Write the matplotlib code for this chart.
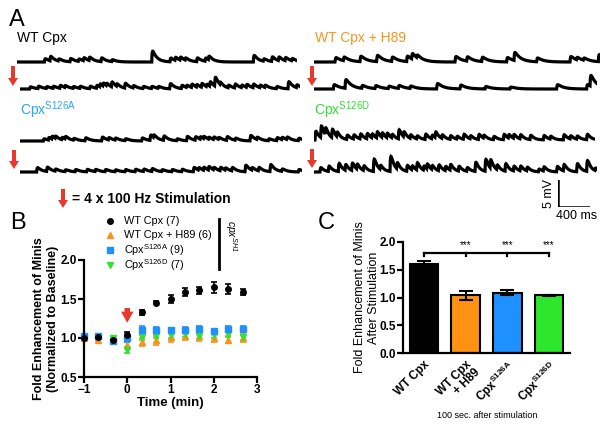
import numpy as np
import matplotlib
matplotlib.use('Agg')
import matplotlib.pyplot as plt
import matplotlib.patches as mpatches

plt.rcParams['font.family'] = ['Liberation Sans', 'DejaVu Sans']
plt.rcParams['mathtext.default'] = 'regular'

W, H = 610, 428
RED = '#e8392f'
ORANGE = '#f7941d'
BLUE = '#1e90ff'
GREEN = '#33e133'

# ---- panel A: miniature events (time in ms, amplitude in mV)
wt_pre_t = [342, 412, 517, 662, 767, 829, 900, 1050, 1184, 1684, 1912, 1975, 2037, 2100, 2246, 2350, 2392,
            2954, 3079, 3183, 3267, 3350, 3433]
wt_pre_a = [0.6, 0.85, 0.4, 0.6, 0.45, 0.6, 0.65, 0.7, 0.35, 2.0, 0.7, 0.6, 0.6, 0.45, 0.7, 0.6, 0.7,
            1.2, 0.45, 0.85, 0.7, 0.6, 0.45]
wt_post_t = [121, 225, 329, 412, 496, 558, 662, 746, 871, 954, 996, 1037, 1079, 1142, 1204, 1308, 1412, 1537,
             1642, 1725, 1871, 2017, 2079, 2142, 2204, 2267, 2329, 2371, 2433, 2496, 2600, 2683, 2767, 2829,
             2912, 2996, 3058, 3204, 3350, 3454]
wt_post_a = [0.4, 0.45, 0.35, 0.4, 0.55, 0.4, 0.35, 0.4, 0.45, 0.55, 0.6, 0.6, 0.5, 0.95, 0.5, 0.9, 0.45,
             0.4, 0.4, 0.35, 0.95, 0.6, 0.45, 0.65, 0.5, 0.75, 0.5, 0.9, 1.7, 0.5, 0.5, 0.75, 0.5, 0.6,
             0.7, 0.5, 0.45, 0.4, 1.3, 0.55]
s126a_pre_t = [292, 354, 396, 438, 521, 563, 667, 813, 1021, 1104, 1188, 1313, 1521, 1625, 1667, 1792, 1958,
               2083, 2188, 2250, 2292, 2354, 2417, 2479, 2583, 2688, 2875, 2958, 3104, 3208, 3271, 3333, 3479]
s126a_pre_a = [0.4, 0.5, 0.55, 0.45, 0.45, 0.5, 0.35, 0.55, 0.7, 0.45, 0.4, 0.35, 0.55, 1.0, 0.55, 0.8,
               0.35, 0.8, 0.65, 0.5, 0.45, 0.4, 0.5, 0.4, 0.7, 0.4, 1.0, 0.45, 0.35, 0.55, 0.45, 0.5, 0.45]
s126a_post_t = [208, 333, 438, 563, 688, 833, 938, 1063, 1188, 1313, 1438, 1542, 1646, 1771, 1896, 2021, 2167,
                2229, 2292, 2354, 2417, 2500, 2563, 2646, 2813, 2896, 2979, 3125, 3271, 3479]
s126a_post_a = [0.8, 0.8, 0.4, 0.35, 0.4, 0.45, 0.4, 0.4, 0.35, 0.4, 0.45, 0.45, 0.55, 0.35, 0.4, 0.45,
                0.8, 0.5, 0.6, 0.7, 0.5, 0.65, 0.45, 0.65, 1.2, 0.5, 0.65, 1.3, 0.45, 0.45]
h89_pre_t = [263, 367, 575, 783, 971, 1158, 1221, 1283, 1763, 1908, 2096, 2408, 2500, 2783, 3200, 3283, 3367, 3554]
h89_pre_a = [0.8, 0.7, 1.0, 1.15, 0.8, 1.0, 1.05, 0.55, 1.0, 0.8, 0.8, 0.8, 1.5, 0.7, 1.0, 0.5, 0.45, 1.3]
h89_post_t = [242, 388, 596, 763, 929, 1054, 1200, 1533, 1825, 2138, 2450, 3033, 3408, 3450]
h89_post_a = [0.8, 1.6, 0.55, 0.55, 0.45, 0.55, 0.45, 1.0, 0.7, 0.45, 0.35, 0.8, 0.8, 2.0]
s126d_pre_t = [13, 83, 138, 221, 283, 408, 492, 575, 658, 721, 783, 846, 908, 971, 1054, 1117, 1200, 1283, 1388,
               1471, 1513, 1596, 1700, 1783, 1867, 1950, 2054, 2117, 2242, 2367, 2429, 2492, 2575, 2700, 2867,
               2950, 3117, 3200, 3283, 3408, 3513]
s126d_pre_a = [1.6, 2.2, 1.4, 1.6, 0.9, 0.8, 0.8, 0.95, 1.0, 0.8, 1.2, 0.9, 0.9, 0.7, 1.7, 1.0, 0.7, 0.6, 1.0,
               0.7, 1.1, 0.7, 0.7, 0.55, 0.95, 0.6, 0.95, 0.6, 0.6, 1.0, 0.7, 0.75, 0.8, 0.8, 0.8, 0.55, 0.95,
               0.6, 0.6, 1.0, 1.2]
s126d_post_t = [75, 179, 304, 388, 471, 533, 617, 742, 825, 950, 1033, 1158, 1221, 1283, 1367, 1408, 1471, 1554,
                1638, 1700, 1804, 1908, 2013, 2138, 2200, 2283, 2388, 2492, 2575, 2658, 2804, 2867, 3033, 3117,
                3283, 3408, 3513]
s126d_post_a = [0.8, 1.0, 1.5, 1.1, 1.4, 1.0, 0.9, 2.3, 0.8, 2.8, 1.2, 1.1, 0.8, 1.4, 0.8, 1.0, 0.8, 1.1, 0.8,
                1.1, 0.9, 0.7, 1.7, 2.2, 1.6, 0.9, 1.4, 0.9, 0.9, 0.7, 0.5, 0.8, 1.0, 1.2, 1.5, 2.0, 0.5]

# ---- panel B: time course
time_min = [-1, -0.67, -0.33, 0, 0.33, 0.67, 1, 1.33, 1.67, 2, 2.33, 2.67]
wt = [1.00, 1.01, 0.98, 1.04, 1.33, 1.45, 1.50, 1.59, 1.61, 1.65, 1.63, 1.59]
wt_err = [0.01, 0.01, 0.01, 0.04, 0.03, 0.02, 0.05, 0.05, 0.05, 0.07, 0.06, 0.04]
h89 = [1.00, 0.98, 1.00, 0.91, 0.95, 0.97, 1.01, 1.03, 1.02, 1.00, 0.98, 1.00]
h89_err = [0.01, 0.02, 0.02, 0.04, 0.05, 0.06, 0.06, 0.06, 0.06, 0.05, 0.05, 0.05]
s126a = [1.03, 1.02, 0.96, 1.00, 1.10, 1.10, 1.10, 1.10, 1.12, 1.09, 1.12, 1.12]
s126a_err = [0.01, 0.01, 0.02, 0.05, 0.05, 0.04, 0.03, 0.04, 0.03, 0.03, 0.04, 0.03]
s126d = [1.01, 1.01, 1.00, 0.85, 1.01, 1.03, 1.04, 1.05, 1.02, 1.04, 1.05, 1.01]
s126d_err = [0.01, 0.01, 0.02, 0.04, 0.04, 0.03, 0.04, 0.04, 0.03, 0.04, 0.04, 0.03]
legend_names = ['WT Cpx (7)', 'WT Cpx + H89 (6)', 'Cpx$^{S126A}$ (9)', 'Cpx$^{S126D}$ (7)']

# ---- panel C: 100 s after stimulation
groups = ['WT Cpx', 'WT Cpx\n+ H89', 'Cpx$^{S126A}$', 'Cpx$^{S126D}$']
fold_after = [1.60, 1.04, 1.09, 1.04]
fold_err = [0.05, 0.08, 0.05, 0.01]
bar_colors = ['black', '#ff9212', '#1e90ff', '#2ee62e']

fig = plt.figure(figsize=(W / 100, H / 100), dpi=100)


def px_axes(x0, y0, x1, y1):
    return fig.add_axes([x0 / W, 1 - y1 / H, (x1 - x0) / W, (y1 - y0) / H])


def trace(ev_t, ev_a, dur, tau):
    t = np.arange(0, dur, 2.0)
    v = np.zeros_like(t)
    rise = 5.0
    tp = rise * tau / (tau - rise) * np.log(tau / rise)
    norm = np.exp(-tp / tau) - np.exp(-tp / rise)
    for t0, a in zip(ev_t, ev_a):
        d = t - t0
        m = d > 0
        v[m] += a * (np.exp(-d[m] / tau) - np.exp(-d[m] / rise)) / norm
    return t, v


MS_PER_PX = 12.5
MV_PER_PX = 5 / 27.0


def add_trace(x0, base, ev_t, ev_a, dur, tau):
    # axes in ms / mV, same scale as the scale bar
    x1 = x0 + dur / MS_PER_PX
    ax = px_axes(x0, base - 4 / MV_PER_PX, x1, base + 1 / MV_PER_PX)
    t, v = trace(ev_t, ev_a, dur, tau)
    ax.plot(t, v, color='black', lw=2.3, solid_joinstyle='miter')
    ax.set_xlim(0, dur)
    ax.set_ylim(-1, 4)
    ax.axis('off')
    return ax


add_trace(17, 62, wt_pre_t, wt_pre_a, 3500, 55)
add_trace(20, 89, wt_post_t, wt_post_a, 3500, 55)
add_trace(20, 141, s126a_pre_t, s126a_pre_a, 3520, 55)
add_trace(20, 172, s126a_post_t, s126a_post_a, 3520, 55)
add_trace(314, 62, h89_pre_t, h89_pre_a, 3575, 75)
add_trace(314, 89, h89_post_t, h89_post_a, 3533, 75)
add_trace(314, 140, s126d_pre_t, s126d_pre_a, 3513, 45)
add_trace(314, 172, s126d_post_t, s126d_post_a, 3533, 45)

# scale bar: 5 mV / 400 ms
sb = px_axes(558, 180, 558 + 400 / MS_PER_PX, 180 + 5 / MV_PER_PX)
sb.plot([0, 0, 400], [5, 0, 0], color='black', lw=1.8, solid_joinstyle='miter')
sb.set_xlim(0, 400)
sb.set_ylim(0, 5)
sb.axis('off')

# overlay in pixel coordinates for labels and arrows, kept on top
ov = fig.add_axes([0, 0, 1, 1])
ov.set_xlim(0, W)
ov.set_ylim(H, 0)
ov.axis('off')
ov.set_zorder(10)


def red_arrow(x, y0, y1):
    ov.add_patch(mpatches.FancyArrow(x, y0, 0, y1 - y0, width=4, head_width=10, head_length=8,
                                     length_includes_head=True, color=RED, lw=0))


ov.text(9, 20, 'A', fontsize=17, va='center')
ov.text(10, 223, 'B', fontsize=17, va='center')
ov.text(318, 223, 'C', fontsize=17, va='center')
ov.text(17, 38, 'WT Cpx', fontsize=10, va='center')
ov.text(315, 38, 'WT Cpx + H89', fontsize=10, va='center', color=ORANGE)
ov.text(20, 110, 'Cpx$^{S126A}$', fontsize=10, va='center', color='#29a8ea')
ov.text(314, 110, 'Cpx$^{S126D}$', fontsize=10, va='center', color='#33dd33')
red_arrow(13, 66, 86)
red_arrow(14, 150, 169)
red_arrow(312, 66, 86)
red_arrow(312, 149, 168)
red_arrow(63, 189, 208)
ov.text(72, 199, '= 4 x 100 Hz Stimulation', fontsize=10, fontweight='bold', va='center')
ov.text(549, 193, '5 mV', fontsize=9, rotation=90, ha='center', va='center')
ov.text(577, 216, '400 ms', fontsize=9, ha='center', va='center')

# ---- panel B
axB = px_axes(84, 260, 257, 377)
series = [(h89, h89_err, ORANGE, '^'), (s126d, s126d_err, GREEN, 'v'),
          (s126a, s126a_err, BLUE, 's'), (wt, wt_err, 'black', 'o')]
for y, e, c, m in series:
    axB.errorbar(time_min, y, yerr=e, fmt=m, color=c, ms=4, capsize=2.5, elinewidth=1.2,
                 capthick=1.2, mec=c, clip_on=False)
axB.set_xlim(-1, 3)
axB.set_ylim(0.5, 2.0)
axB.set_xticks([-1, 0, 1, 2, 3])
axB.set_yticks([0.5, 1.0, 1.5, 2.0])
axB.set_yticklabels(['0.5', '1.0', '1.5', '2.0'])
for s in ['top', 'right']:
    axB.spines[s].set_visible(False)
for s in ['left', 'bottom']:
    axB.spines[s].set_linewidth(1.6)
axB.tick_params(width=1.6, length=4, labelsize=8.5, pad=1)
for lab in axB.get_xticklabels() + axB.get_yticklabels():
    lab.set_fontweight('bold')
axB.set_xlabel('Time (min)', fontsize=9.5, fontweight='bold', labelpad=1)
axB.set_ylabel('Fold Enhancement of Minis\n(Normalized to Baseline)', fontsize=9,
               fontweight='bold', linespacing=1.25)
axB.yaxis.set_label_coords(-0.145, 0.5)
axB.annotate('', xy=(0, 1.16), xytext=(0, 1.42),
             arrowprops=dict(arrowstyle='simple,head_length=0.8,head_width=0.9,tail_width=0.4',
                             color=RED, lw=0))
# legend, drawn by hand so the rows keep the reference spacing
legend_rows = [221, 235, 250, 265]
legend_style = [series[3], series[0], series[2], series[1]]
for name, row, (_, _, c, m) in zip(legend_names, legend_rows, legend_style):
    ov.plot([110], [row], ls='none', marker=m, color=c, ms=4)
    ov.text(124, row, name, fontsize=7.8, va='center')
ov.plot([219, 219], [219, 269], color='black', lw=2)
ov.text(231, 236, 'cpx$^{SH1}$', fontsize=7.5, style='italic', rotation=270, ha='center', va='center')

# ---- panel C
axC = px_axes(403, 242, 570, 353)
xpos = np.arange(len(groups))
axC.bar(xpos, fold_after, width=0.68, color=bar_colors, edgecolor='black', linewidth=1.5,
        yerr=fold_err, error_kw=dict(ecolor='black', elinewidth=1.5, capsize=5, capthick=1.5))
axC.set_xlim(-0.5, 3.5)
axC.set_ylim(0, 2.0)
axC.set_yticks([0, 0.5, 1.0, 1.5, 2.0])
axC.set_yticklabels(['0.0', '0.5', '1.0', '1.5', '2.0'])
axC.set_xticks(xpos)
axC.set_xticklabels(groups, rotation=45, ha='right', rotation_mode='anchor', fontsize=9.5,
                    fontweight='bold', linespacing=0.95)
for s in ['top', 'right']:
    axC.spines[s].set_visible(False)
for s in ['left', 'bottom']:
    axC.spines[s].set_linewidth(1.6)
axC.tick_params(width=1.6, length=4, labelsize=8.5, pad=1)
axC.tick_params(axis='x', length=0, pad=4)
for lab in axC.get_yticklabels():
    lab.set_fontweight('bold')
axC.set_ylabel('Fold Enhancement of Minis\nAfter Stimulation', fontsize=9, linespacing=1.2)
axC.yaxis.set_label_coords(-0.14, 0.5)
sig_y = 1.81
axC.plot([0, 3], [sig_y, sig_y], color='black', lw=1.6)
for xi in xpos:
    axC.plot([xi, xi], [sig_y, sig_y - 0.07], color='black', lw=1.6)
for xi in xpos[1:]:
    axC.text(xi, sig_y + 0.04, '***', fontsize=7, ha='center', va='bottom')
ov.text(487, 416, '100 sec. after stimulation', fontsize=6.5, ha='center', va='center')

fig.savefig('out.png', dpi=100)
